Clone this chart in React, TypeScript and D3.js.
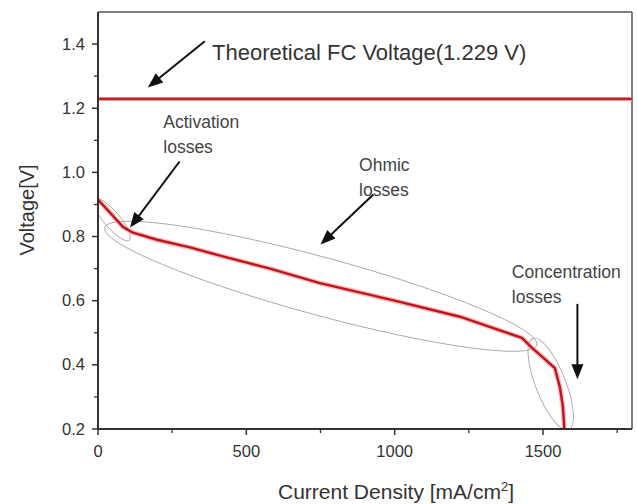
import React from "react";
import * as d3 from "d3";

// Polarization curve (current density mA/cm², voltage V)
const currentDensity = [0, 40, 84, 118, 199, 310, 421, 580, 748, 1000, 1220, 1350, 1429, 1463, 1490, 1540, 1557, 1567, 1572];
const voltage = [0.915, 0.875, 0.83, 0.812, 0.79, 0.766, 0.738, 0.70, 0.655, 0.60, 0.55, 0.509, 0.484, 0.453, 0.431, 0.39, 0.33, 0.27, 0.2];
const theoreticalVoltage = 1.229;

const xTicks = [0, 500, 1000, 1500];
const xMinorTicks = [250, 750, 1250, 1750];
const yTicks = [0.2, 0.4, 0.6, 0.8, 1.0, 1.2, 1.4];
const yMinorTicks = [0.3, 0.5, 0.7, 0.9, 1.1, 1.3];

// annotation labels: [lines, current, voltage]
const annoLabels: [string[], number, number][] = [
  [["Activation", "losses"], 220, 1.137],
  [["Ohmic", "losses"], 880, 1.005],
  [["Concentration", "losses"], 1395, 0.67],
];
// arrows: from [current, voltage] to [current, voltage]
const arrows: [number, number, number, number][] = [
  [360, 1.409, 168, 1.265],
  [275, 1.034, 108, 0.828],
  [928, 0.931, 750, 0.775],
  [1616, 0.59, 1616, 0.355],
];
// ellipses: center current, center voltage, semi-major px, semi-minor px, angle deg
const ellipses: [number, number, number, number, number][] = [
  [47, 0.853, 27, 8, 50],
  [751, 0.645, 224, 29, 15.2],
  [1526, 0.34, 49, 15, 68.6],
];

const W = 637, H = 504;
const M = { left: 98, right: 632, top: 12, bottom: 429 };
const FONT = "'Liberation Sans', Arial, Helvetica, sans-serif";

export default function App() {
  const x = d3.scaleLinear().domain([0, 1800]).range([M.left, M.right]);
  const y = d3.scaleLinear().domain([0.2, 1.5]).range([M.bottom, M.top]);
  const line = d3.line<number>().x((_, i) => x(currentDensity[i])).y((v) => y(v));
  const path = line(voltage) || "";

  const arrowHead = (x1: number, y1: number, x2: number, y2: number) => {
    const ang = Math.atan2(y2 - y1, x2 - x1);
    const L = 15, Wd = 6;
    const bx = x2 - L * Math.cos(ang), by = y2 - L * Math.sin(ang);
    const px = -Math.sin(ang) * Wd, py = Math.cos(ang) * Wd;
    return `M${x2},${y2}L${bx + px},${by + py}L${bx - px},${by - py}Z`;
  };

  return (
    <svg width={W} height={H} style={{ position: "absolute", left: 0, top: 0, background: "#fff" }} fontFamily={FONT}>
      <defs>
        <clipPath id="plotclip">
          <rect x={M.left} y={M.top} width={M.right - M.left} height={M.bottom - M.top} />
        </clipPath>
      </defs>
      {/* frame */}
      <line x1={M.left} x2={M.right} y1={M.top} y2={M.top} stroke="#555" strokeWidth={1.5} />
      <line x1={M.right} x2={M.right} y1={M.top} y2={M.bottom} stroke="#555" strokeWidth={1.5} />

      {/* ellipses */}
      <g clipPath="url(#plotclip)">
        {ellipses.map(([cx, cy, rx, ry, a], i) => (
          <ellipse key={i} cx={0} cy={0} rx={rx} ry={ry}
            transform={`translate(${x(cx)},${y(cy)}) rotate(${a})`}
            fill="none" stroke="#a8a8a8" strokeWidth={0.9} />
        ))}
      </g>

      {/* theoretical line */}
      <line x1={x(0)} x2={x(1800)} y1={y(theoreticalVoltage)} y2={y(theoreticalVoltage)} stroke="#e8a0a0" strokeWidth={4} />
      <line x1={x(0)} x2={x(1800)} y1={y(theoreticalVoltage)} y2={y(theoreticalVoltage)} stroke="#c0202a" strokeWidth={2.2} />

      {/* polarization curve */}
      <g clipPath="url(#plotclip)">
        <path d={path} fill="none" stroke="#f2a4a4" strokeWidth={5} strokeLinejoin="round" opacity={0.7} />
        <path d={path} fill="none" stroke="#c0141c" strokeWidth={2.4} strokeLinejoin="round" />
      </g>

      {/* arrows */}
      {arrows.map(([a, b, c, d], i) => {
        const x1 = x(a), y1 = y(b), x2 = x(c), y2 = y(d);
        const ang = Math.atan2(y2 - y1, x2 - x1);
        return (
          <g key={i}>
            <line x1={x1} y1={y1} x2={x2 - 10 * Math.cos(ang)} y2={y2 - 10 * Math.sin(ang)} stroke="#111" strokeWidth={2} />
            <path d={arrowHead(x1, y1, x2, y2)} fill="#111" />
          </g>
        );
      })}

      {/* annotation text */}
      <text x={212} y={60} fontSize={22} fill="#333">Theoretical FC Voltage(1.229 V)</text>
      {annoLabels.map(([lines, cx, cy], i) => (
        <text key={i} x={x(cx)} y={y(cy)} fontSize={17.5} fill="#444">
          {lines.map((l, j) => (
            <tspan key={j} x={x(cx)} dy={j === 0 ? 0 : 25}>{l}</tspan>
          ))}
        </text>
      ))}

      {/* axes */}
      <line x1={M.left} x2={M.left} y1={M.top} y2={M.bottom + 1} stroke="#333" strokeWidth={2} />
      <line x1={M.left - 1} x2={M.right} y1={M.bottom} y2={M.bottom} stroke="#333" strokeWidth={2} />
      {yTicks.map((t) => (
        <g key={t}>
          <line x1={M.left - 6} x2={M.left} y1={y(t)} y2={y(t)} stroke="#333" strokeWidth={1.5} />
          <text x={85} y={y(t) + 5.5} textAnchor="end" fontSize={16.5} fill="#333">{t.toFixed(1)}</text>
        </g>
      ))}
      {yMinorTicks.map((t) => (
        <line key={t} x1={M.left - 4} x2={M.left} y1={y(t)} y2={y(t)} stroke="#333" strokeWidth={1.3} />
      ))}
      {xTicks.map((t) => (
        <g key={t}>
          <line x1={x(t)} x2={x(t)} y1={M.bottom} y2={M.bottom + 6} stroke="#333" strokeWidth={1.5} />
          <text x={x(t)} y={457} textAnchor="middle" fontSize={16.5} fill="#333">{t}</text>
        </g>
      ))}
      {xMinorTicks.map((t) => (
        <line key={t} x1={x(t)} x2={x(t)} y1={M.bottom} y2={M.bottom + 4} stroke="#333" strokeWidth={1.3} />
      ))}

      {/* axis titles */}
      <text x={396} y={499} textAnchor="middle" fontSize={21} fill="#333">
        Current Density [mA/cm<tspan fontSize={13} dy={-8}>2</tspan><tspan dy={8}>]</tspan>
      </text>
      <text transform={`translate(34,210) rotate(-90)`} textAnchor="middle" fontSize={20} fill="#333">Voltage[V]</text>
    </svg>
  );
}
